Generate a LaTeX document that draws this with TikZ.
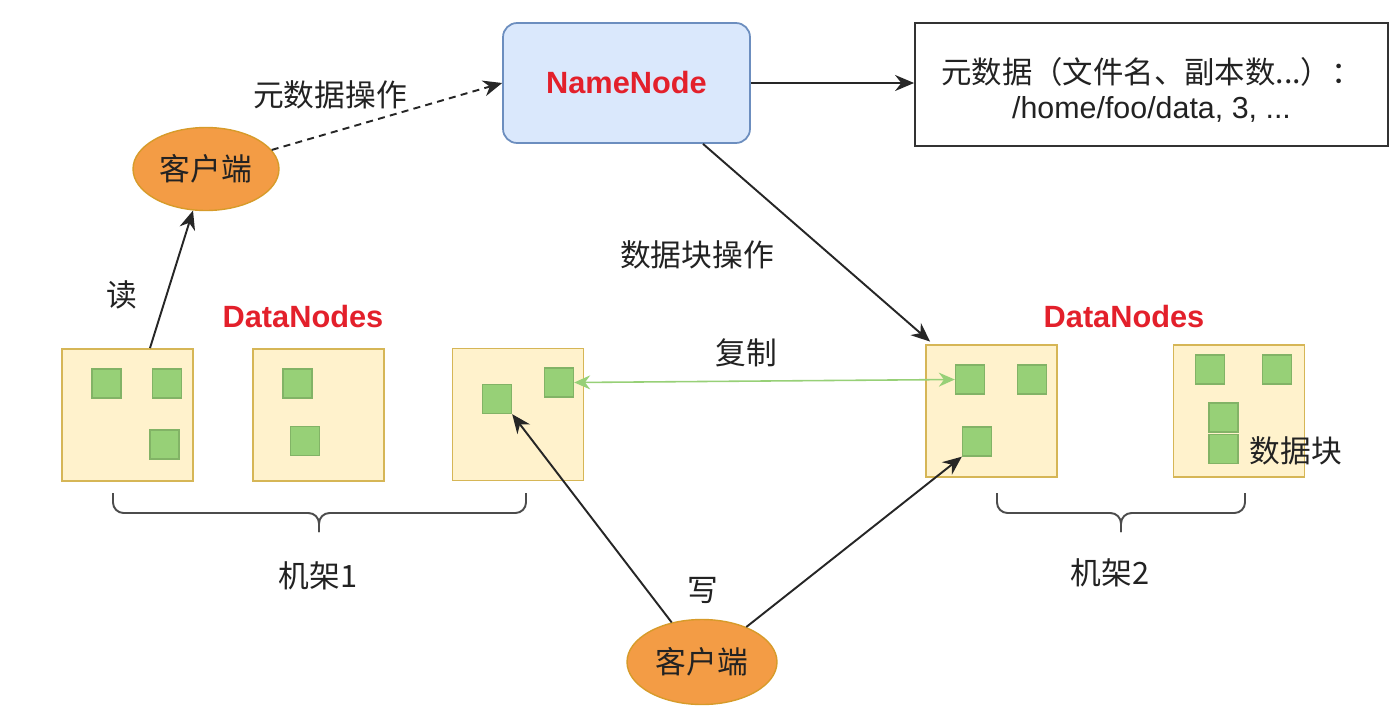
\documentclass[tikz,border=0pt]{standalone}
\usepackage{fontspec}
\setmainfont{Liberation Sans}
\newfontfamily\cjk{Noto Sans CJK SC}
\usepackage{tikz}
\usetikzlibrary{positioning,arrows.meta,calc,shapes.geometric}
\definecolor{cName}{HTML}{DAE8FC}
\definecolor{cNameD}{HTML}{6C8EBF}
\definecolor{cRack}{HTML}{FFF2CC}
\definecolor{cRackD}{HTML}{D6B656}
\definecolor{cBlk}{HTML}{97D077}
\definecolor{cBlkD}{HTML}{82B366}
\definecolor{cCli}{HTML}{F39C45}
\definecolor{cCliD}{HTML}{D79B2A}
\definecolor{cRed}{HTML}{E3202B}
\definecolor{cTxt}{HTML}{222222}
\tikzset{
  namebox/.style={rounded corners=8pt, draw=cNameD, fill=cName, line width=1pt,
                  minimum width=4.94cm, minimum height=2.4cm,
                  font=\bfseries\fontsize{17.5}{20}\selectfont, text=cRed},
  metabox/.style={draw=black!80, line width=1.1pt, align=center,
                  minimum width=9.46cm, minimum height=2.46cm,
                  font=\fontsize{17.3}{20}\selectfont, text=cTxt},
  client/.style ={ellipse, draw=cCliD, fill=cCli, line width=0.8pt, inner sep=0,
                  minimum width=2.92cm, minimum height=1.66cm,
                  font=\cjk\fontsize{17.5}{20}\selectfont, text=cTxt},
  dnode/.style  ={draw=cRackD, fill=cRack, line width=1.1pt, inner sep=0,
                  minimum width=2.62cm, minimum height=2.64cm},
  blk/.style    ={draw=cBlkD, fill=cBlk, line width=0.8pt, inner sep=0,
                  minimum size=0.58cm},
  lbl/.style    ={font=\cjk\fontsize{17.5}{20}\selectfont, text=cTxt},
  ttl/.style    ={font=\bfseries\fontsize{17.5}{20}\selectfont, text=cRed},
  flow/.style   ={-{Stealth[length=3.8mm,width=3.2mm]}, line width=1.1pt, draw=black!85},
  metaflow/.style={flow, dashed, dash pattern=on 4pt off 3pt},
  repl/.style   ={{Stealth[length=3.2mm,width=2.8mm]}-{Stealth[length=3.2mm,width=2.8mm]},
                  line width=0.9pt, draw=cBlk},
  rackbrace/.style={rounded corners=6pt, line width=1.1pt, draw=black!70},
}
\begin{document}
\begin{tikzpicture}[x=0.02cm, y=-0.02cm]
  \useasboundingbox (0,0) rectangle (1392,724);

  % ---- name node + metadata ----
  \node[namebox] (nn) at (626.5,83) {NameNode};
  \node[metabox] (meta) at (1151.5,84.5)
    {\rule{0pt}{21pt}{\cjk 元数据（文件名、副本数...）：}\\[-0.5pt]/home/foo/data, 3, ...};

  % ---- clients ----
  \node[client] (cl1) at (206,169) {客户端};
  \node[client, minimum width=3cm, minimum height=1.7cm] (cl2) at (702,662) {客户端};

  % ---- rack 1 ----
  \node[dnode] (dn1) at (127.5,415) {};
  \node[dnode] (dn2) at (318.5,415) {};
  \node[dnode] (dn3) at (518,414.5) {};
  \node[blk] (b1a) at (106.5,383.5) {};
  \node[blk] (b1b) at (167,383.5) {};
  \node[blk] (b1c) at (164.5,444.5) {};
  \node[blk] (b2a) at (297.5,383.5) {};
  \node[blk] (b2b) at (305,441) {};
  \node[blk] (b3a) at (497,399) {};
  \node[blk] (b3b) at (559,382.5) {};

  % ---- rack 2 ----
  \node[dnode] (dn4) at (991.5,411) {};
  \node[dnode] (dn5) at (1239,411) {};
  \node[blk] (b4a) at (970,379.5) {};
  \node[blk] (b4b) at (1032,379.5) {};
  \node[blk] (b4c) at (977,441.5) {};
  \node[blk] (b5a) at (1210,369.5) {};
  \node[blk] (b5b) at (1277,369.5) {};
  \node[blk] (b5c) at (1223.5,417.5) {};
  \node[blk] (b5d) at (1223.5,449) {};

  % ---- labels ----
  \node[ttl] (dns1) at (303,317) {DataNodes};
  \node[ttl] (dns2) at (1124,317) {DataNodes};
  \node[lbl] (lmeta) at (330,95) {元数据操作};
  \node[lbl] (lread) at (122,295) {读};
  \node[lbl] (lblk) at (697,255) {数据块操作};
  \node[lbl] (lrep) at (746,353) {复制};
  \node[lbl] (lwrite) at (703,590) {写};
  \node[lbl] (lchunk) at (1296,451) {数据块};

  % ---- racks (braces) ----
  \coordinate (r1l) at (113,493);
  \coordinate (r1r) at (526,493);
  \coordinate (r1m) at (319,513);
  \coordinate (r1t) at (319,532);
  \coordinate (r2l) at (997,493);
  \coordinate (r2r) at (1245,493);
  \coordinate (r2m) at (1121,513);
  \coordinate (r2t) at (1121,532);
  \draw[rackbrace] (r1l) |- (r1m) -- (r1t);
  \draw[rackbrace] (r1r) |- (r1m) -- (r1t);
  \draw[rackbrace] (r2l) |- (r2m) -- (r2t);
  \draw[rackbrace] (r2r) |- (r2m) -- (r2t);
  \node[lbl] (rack1) at (318,576) {机架1};
  \node[lbl] (rack2) at (1110,573) {机架2};

  % ---- edges ----
  \draw[flow] (nn.east) -- (nn.east -| meta.west);
  \draw[metaflow] (cl1) -- (nn.west);
  \draw[flow] ([xshift=0.45cm]dn1.north) -- (cl1);
  \draw[flow] ([xshift=1.53cm]nn.south) -- ([shift={(0.1cm,0.05cm)}]dn4.north west);
  \draw[repl] (b3b.east) -- (b4a.west);
  \draw[flow] (cl2) -- (b3a.south east);
  \draw[flow] (cl2) -- (b4c.south west);

\end{tikzpicture}
\end{document}
